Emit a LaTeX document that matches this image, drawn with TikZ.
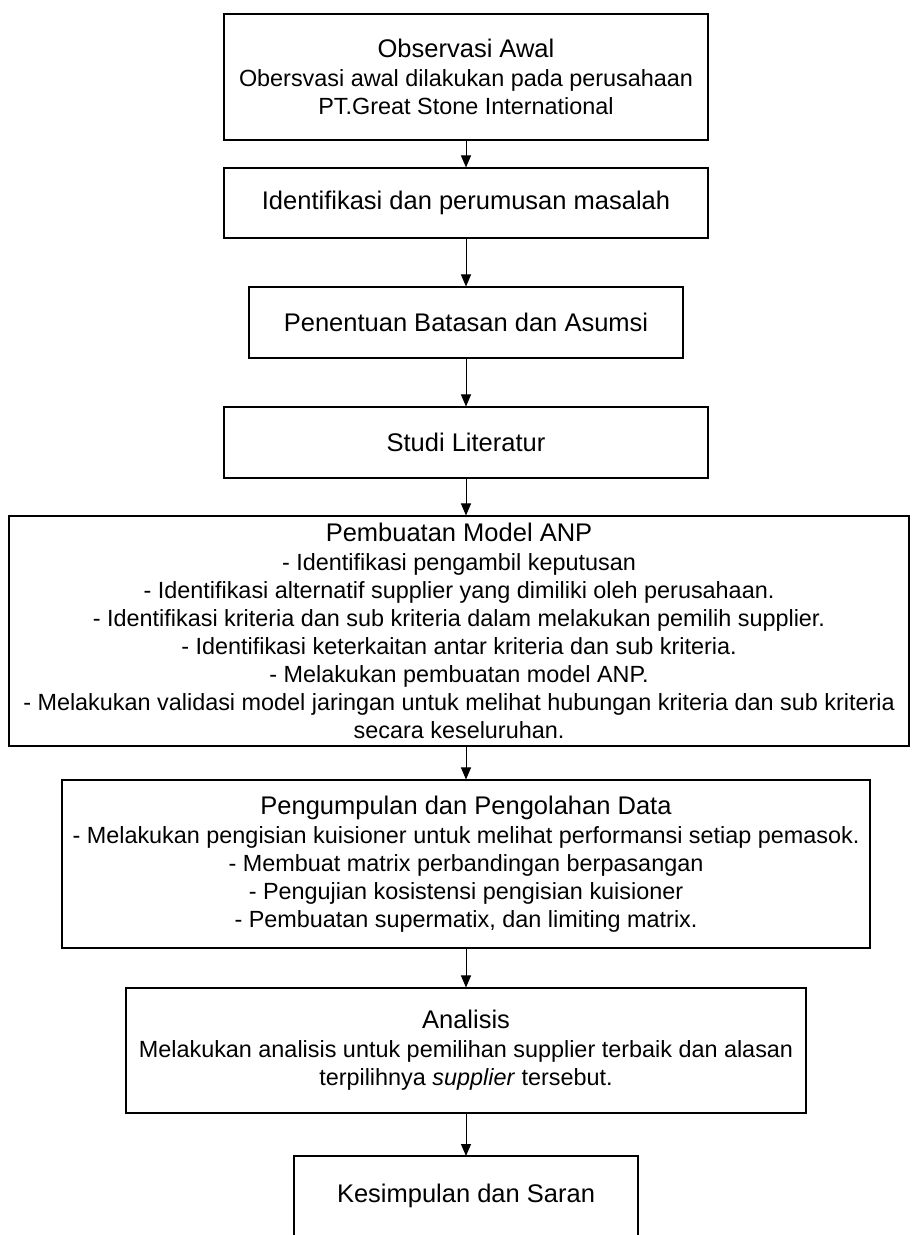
\documentclass[tikz,border=0pt]{standalone}
\usepackage{fontspec}
\setmainfont{Liberation Sans}
\usetikzlibrary{arrows.meta}
\newcommand{\boxtitle}[1]{{\fontsize{25.5}{29}\selectfont #1}}
\begin{document}
\begin{tikzpicture}[x=1pt,y=-1pt,
  box/.style={draw=black,line width=1.1pt,align=center,inner sep=0pt,
    font=\fontsize{23.4}{28.1}\selectfont},
  onebox/.style={box,font=\fontsize{25.5}{29}\selectfont},
  arr/.style={line width=1pt,-{Triangle[length=12pt,width=10pt]}}]
\useasboundingbox (0,0) rectangle (911,1235);
\node[box,minimum width=484pt,minimum height=126pt] (b1) at (466,77)
  {\boxtitle{Observasi Awal}\\[1.5pt]Obersvasi awal dilakukan pada perusahaan\\PT.Great Stone International};
\node[onebox,minimum width=484pt,minimum height=70pt] (b2) at (466,203)
  {Identifikasi dan perumusan masalah};
\node[onebox,minimum width=434pt,minimum height=71pt] (b3) at (466,322.5)
  {Penentuan Batasan dan Asumsi};
\node[onebox,minimum width=484pt,minimum height=71pt] (b4) at (466,442.5)
  {Studi Literatur};
\node[box,minimum width=900pt,minimum height=230pt] (b5) at (459,631)
  {\boxtitle{Pembuatan Model ANP}\\[1pt]
   - Identifikasi pengambil keputusan\\
   - Identifikasi alternatif supplier yang dimiliki oleh perusahaan.\\
   - Identifikasi kriteria dan sub kriteria dalam melakukan pemilih supplier.\\
   - Identifikasi keterkaitan antar kriteria dan sub kriteria.\\
   - Melakukan pembuatan model ANP.\\
   - Melakukan validasi model jaringan untuk melihat hubungan kriteria dan sub kriteria\\
   secara keseluruhan.};
\node[box,minimum width=808pt,minimum height=168pt] (b6) at (466,864)
  {\boxtitle{Pengumpulan dan Pengolahan Data}\\[1pt]
   - Melakukan pengisian kuisioner untuk melihat performansi setiap pemasok.\\
   - Membuat matrix perbandingan berpasangan\\
   - Pengujian kosistensi pengisian kuisioner\\
   - Pembuatan supermatix, dan limiting matrix.};
\node[box,minimum width=680pt,minimum height=125pt] (b7) at (466,1050.5)
  {\boxtitle{Analisis}\\[1pt]
   Melakukan analisis untuk pemilihan supplier terbaik dan alasan\\
   terpilihnya \textit{supplier} tersebut.};
\node[font=\fontsize{25.5}{29}\selectfont] (b8) at (466,1196) {Kesimpulan dan Saran};
\coordinate (b8tl) at (294,1156);
\coordinate (b8tr) at (638,1156);
\coordinate (b8bl) at (294,1240);
\coordinate (b8br) at (638,1240);
\draw[line width=1.1pt] (b8bl) -- (b8tl) -- (b8tr) -- (b8br);
\draw[arr] (b1.south) -- (b2.north);
\draw[arr] (b2.south) -- (b3.north);
\draw[arr] (b3.south) -- (b4.north);
\draw[arr] (b4.south) -- ([xshift=7pt]b5.north);
\draw[arr] ([xshift=7pt]b5.south) -- (b6.north);
\draw[arr] (b6.south) -- (b7.north);
\draw[arr] (b7.south) -- (b8.north |- b8tl);
\end{tikzpicture}
\end{document}
